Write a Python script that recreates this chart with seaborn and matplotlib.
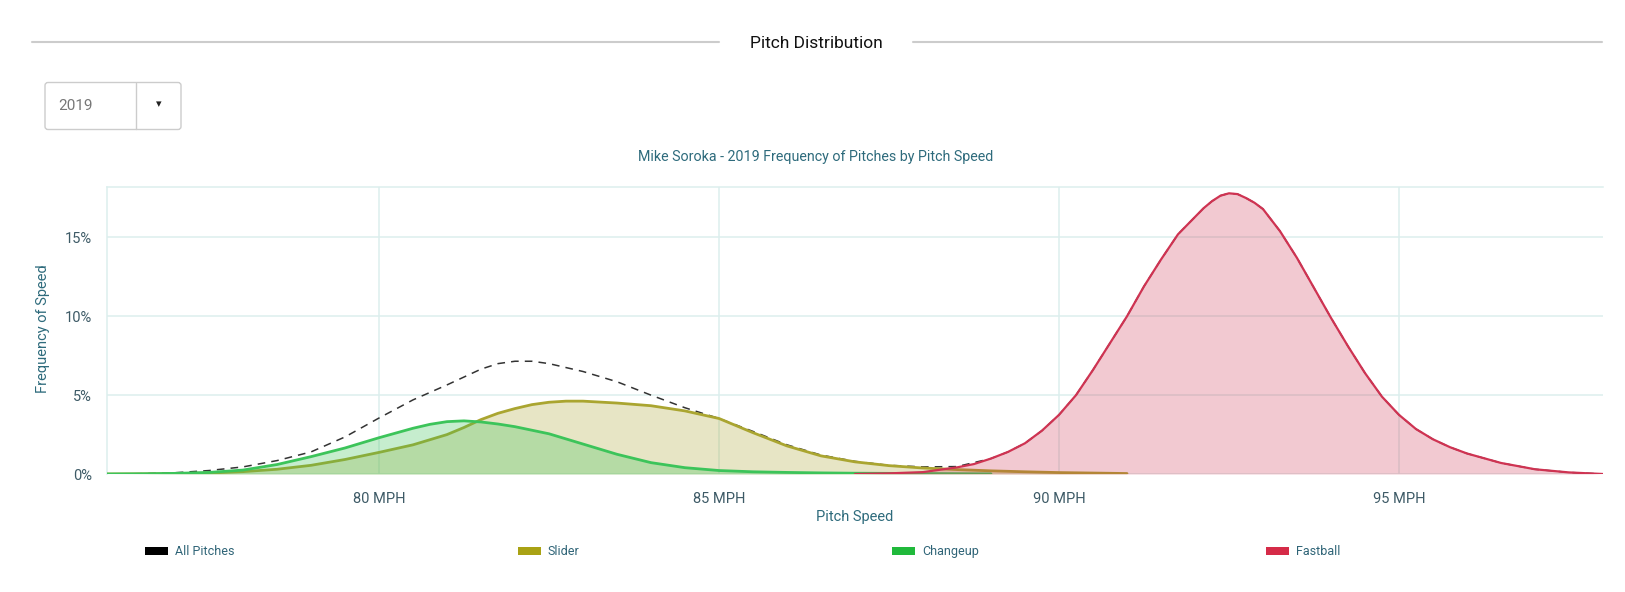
import numpy as np
import pandas as pd
import matplotlib.pyplot as plt
import seaborn as sns
from matplotlib.patches import Rectangle, FancyBboxPatch

# pitch speed (MPH) / frequency (%)
all_mph = [76, 76.5, 77, 77.5, 78, 78.5, 79, 79.5, 80, 80.5, 81, 81.5, 81.75, 82, 82.25, 82.5,
           83, 83.5, 84, 84.5, 85, 85.5, 86, 86.5, 87, 87.5, 88, 88.5, 89, 89.25, 89.5, 89.75,
           90, 90.25, 90.5, 90.75, 91, 91.25, 91.5, 91.75, 92, 92.125, 92.25, 92.375, 92.5,
           92.625, 92.75, 92.875, 93, 93.25, 93.5, 93.75, 94, 94.25, 94.5, 94.75, 95, 95.25,
           95.5, 95.75, 96, 96.5, 97, 97.5, 98]
all_freq = [0.0, 0.02, 0.08, 0.22, 0.45, 0.85, 1.4, 2.35, 3.55, 4.7, 5.65, 6.65, 7.0, 7.15, 7.15, 7.0,
            6.5, 5.85, 5.0, 4.2, 3.52, 2.7, 1.85, 1.2, 0.8, 0.55, 0.45, 0.47, 0.98, 1.4, 1.95, 2.75,
            3.75, 5.0, 6.6, 8.3, 10.0, 11.9, 13.6, 15.2, 16.3, 16.85, 17.3, 17.65, 17.8,
            17.75, 17.5, 17.2, 16.8, 15.4, 13.7, 11.8, 9.9, 8.1, 6.4, 4.9, 3.75, 2.85,
            2.2, 1.7, 1.3, 0.7, 0.3, 0.1, 0.0]

slider_mph = [76, 77, 77.5, 78, 78.5, 79, 79.5, 80, 80.5, 81, 81.25, 81.5, 81.75, 82, 82.25, 82.5,
              82.75, 83, 83.5, 84, 84.5, 85, 85.5, 86, 86.5, 87, 87.5, 88, 88.5, 89, 89.5, 90,
              90.5, 91]
slider_freq = [0.0, 0.02, 0.06, 0.15, 0.3, 0.55, 0.92, 1.37, 1.85, 2.5, 2.95, 3.45, 3.85, 4.15, 4.4, 4.55,
               4.62, 4.62, 4.5, 4.33, 4.0, 3.52, 2.62, 1.78, 1.15, 0.77, 0.53, 0.38, 0.28, 0.2, 0.14, 0.09,
               0.06, 0.03]

changeup_mph = [76, 76.5, 77, 77.5, 78, 78.5, 79, 79.5, 80, 80.5, 80.75, 81, 81.25, 81.5, 81.75, 82,
                82.5, 83, 83.5, 84, 84.5, 85, 85.5, 86, 86.5, 87, 88, 89]
changeup_freq = [0.0, 0.01, 0.04, 0.1, 0.25, 0.6, 1.1, 1.65, 2.3, 2.9, 3.15, 3.32, 3.37, 3.3, 3.17, 3.0,
                 2.55, 1.9, 1.25, 0.72, 0.4, 0.22, 0.14, 0.1, 0.07, 0.05, 0.03, 0.01]

fastball_mph = [87, 87.5, 88, 88.5, 88.75, 89, 89.25, 89.5, 89.75, 90, 90.25, 90.5, 90.75, 91,
                91.25, 91.5, 91.75, 92, 92.125, 92.25, 92.375, 92.5, 92.625, 92.75, 92.875, 93,
                93.25, 93.5, 93.75, 94, 94.25, 94.5, 94.75, 95, 95.25, 95.5, 95.75, 96, 96.5, 97,
                97.5, 98]
fastball_freq = [0.0, 0.04, 0.12, 0.42, 0.63, 0.98, 1.4, 1.95, 2.75, 3.75, 5.0, 6.6, 8.3, 10.0,
                 11.9, 13.6, 15.2, 16.3, 16.85, 17.3, 17.65, 17.8, 17.75, 17.5, 17.2, 16.8,
                 15.4, 13.7, 11.8, 9.9, 8.1, 6.4, 4.9, 3.75, 2.85, 2.2, 1.7, 1.3, 0.7, 0.3,
                 0.1, 0.0]

x_ticks = [80, 85, 90, 95]
y_ticks = [0, 5, 10, 15]
legend_names = ["All Pitches", "Slider", "Changeup", "Fastball"]
legend_colors = ["#000000", "#a9a214", "#20b93b", "#d52b48"]

sns.set_theme(style="white")
plt.rcParams['font.family'] = ['Roboto', 'DejaVu Sans']

W, H = 1625, 592
fig = plt.figure(figsize=(W / 100, H / 100), dpi=100)

# page decoration (header, dropdown, legend) in pixel coords
bg = fig.add_axes([0, 0, 1, 1])
bg.set_xlim(0, W)
bg.set_ylim(H, 0)
bg.axis('off')

bg.plot([32, 719], [41.5, 41.5], color="#cccccc", lw=1.5)
bg.plot([913, 1602], [41.5, 41.5], color="#cccccc", lw=1.5)
bg.text(816, 43.5, "Pitch Distribution", ha="center", va="center", fontsize=12.5, color="#111111")

bg.add_patch(FancyBboxPatch((45, 82.5), 136, 47, boxstyle="round,pad=0,rounding_size=3",
                            fc="white", ec="#cccccc", lw=1))
bg.plot([136, 136], [83, 129], color="#cccccc", lw=1)
bg.text(58, 106, "2019", ha="left", va="center", fontsize=11, color="#777777")
bg.text(158.5, 104, "\u25be", ha="center", va="center", fontsize=8, color="#222222",
        family=['DejaVu Sans'])

bg.text(816, 157.5, "Mike Soroka - 2019 Frequency of Pitches by Pitch Speed",
        ha="center", va="center", fontsize=10.3, color="#2e6b7c")

leg_x = [145, 518, 892, 1266]
for lx, name, col in zip(leg_x, legend_names, legend_colors):
    bg.add_patch(Rectangle((lx, 547), 23, 8, fc=col, ec="none"))
    bg.text(lx + 30, 551.5, name, ha="left", va="center", fontsize=9, color="#2f6477")

# chart
ax = fig.add_axes([107 / W, 1 - 474 / H, (1603 - 107) / W, (474 - 187) / H])
ax.set_facecolor("none")

grid_col = "#dcefee"
for xt in x_ticks:
    ax.axvline(xt, color=grid_col, lw=1.1, zorder=0)
for yt in y_ticks:
    ax.axhline(yt, color=grid_col, lw=1.1, zorder=0)

df_all = pd.DataFrame({"mph": all_mph, "freq": all_freq})
df_sl = pd.DataFrame({"mph": slider_mph, "freq": slider_freq})
df_ch = pd.DataFrame({"mph": changeup_mph, "freq": changeup_freq})
df_fb = pd.DataFrame({"mph": fastball_mph, "freq": fastball_freq})

sns.lineplot(data=df_all, x="mph", y="freq", ax=ax, color="#333333", lw=1.1,
             linestyle=(0, (5, 4)), zorder=2)

ax.fill_between(df_sl["mph"], df_sl["freq"], 0, color="#a8a22c", alpha=0.27, lw=0, zorder=3)
sns.lineplot(data=df_sl, x="mph", y="freq", ax=ax, color="#aaa530", lw=2, zorder=4)

ax.fill_between(df_ch["mph"], df_ch["freq"], 0, color="#3bc459", alpha=0.29, lw=0, zorder=5)
sns.lineplot(data=df_ch, x="mph", y="freq", ax=ax, color="#3cc45a", lw=2, zorder=6)

ax.fill_between(df_fb["mph"], df_fb["freq"], 0, color="#d0304e", alpha=0.26, lw=0, zorder=7)
sns.lineplot(data=df_fb, x="mph", y="freq", ax=ax, color="#cf3352", lw=1.6, zorder=8)

ax.set_xlim(76, 98)
ax.set_ylim(0, 18.2)
ax.set_xticks(x_ticks)
ax.set_xticklabels([f"{v} MPH" for v in x_ticks])
ax.set_yticks(y_ticks)
ax.set_yticklabels([f"{v}%" for v in y_ticks])
ax.tick_params(axis="both", length=0, labelsize=10.5, labelcolor="#3d5a66")
ax.tick_params(axis="x", pad=13)
ax.tick_params(axis="y", pad=11)

for side in ["right", "bottom"]:
    ax.spines[side].set_visible(False)
for side in ["left", "top"]:
    ax.spines[side].set_color(grid_col)
    ax.spines[side].set_linewidth(1.1)

ax.set_xlabel("Pitch Speed", fontsize=10.5, color="#2e6b7c")
ax.set_ylabel("Frequency of Speed", fontsize=10.5, color="#2e6b7c")
ax.xaxis.set_label_coords(0.5, (474 - 517) / 287)
ax.xaxis.label.set_va("center")
ax.yaxis.set_label_coords((43.5 - 107) / 1496, 0.507)
ax.yaxis.label.set_va("center")

fig.savefig("out.png", dpi=100)
